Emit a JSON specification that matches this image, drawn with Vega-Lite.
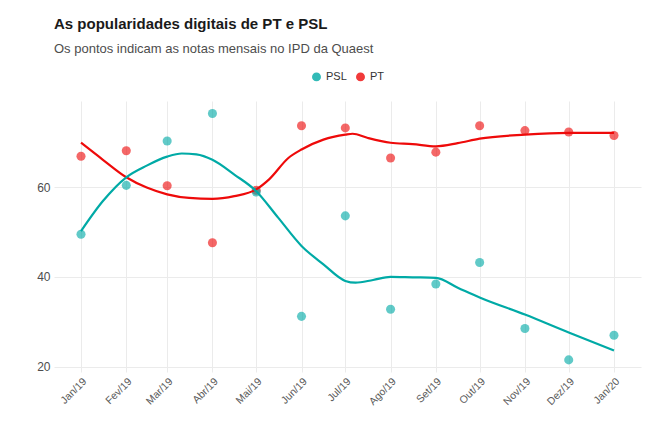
{
  "$schema": "https://vega.github.io/schema/vega-lite/v6.json",
  "title": {
    "text": "As popularidades digitais de PT e PSL",
    "subtitle": "Os pontos indicam as notas mensais no IPD da Quaest",
    "anchor": "start",
    "frame": "group",
    "font": "Liberation Sans",
    "fontSize": 15,
    "fontWeight": "bold",
    "color": "#1a1a1a",
    "subtitleFont": "Liberation Sans",
    "subtitleFontSize": 13,
    "subtitleColor": "#4d4d4d",
    "subtitlePadding": 11,
    "offset": 15
  },
  "width": 587,
  "height": 271,
  "padding": {"left": 36, "top": 17, "right": 27, "bottom": 5},
  "background": "white",
  "datasets": {
    "pontos": [
      {"data": "2019-01-01", "partido": "PT", "nota": 66.9},
      {"data": "2019-02-01", "partido": "PT", "nota": 68.1},
      {"data": "2019-03-01", "partido": "PT", "nota": 60.3},
      {"data": "2019-04-01", "partido": "PT", "nota": 47.6},
      {"data": "2019-05-01", "partido": "PT", "nota": 59.3},
      {"data": "2019-06-01", "partido": "PT", "nota": 73.7},
      {"data": "2019-07-01", "partido": "PT", "nota": 73.2},
      {"data": "2019-08-01", "partido": "PT", "nota": 66.5},
      {"data": "2019-09-01", "partido": "PT", "nota": 67.8},
      {"data": "2019-10-01", "partido": "PT", "nota": 73.7},
      {"data": "2019-11-01", "partido": "PT", "nota": 72.6},
      {"data": "2019-12-01", "partido": "PT", "nota": 72.3},
      {"data": "2020-01-01", "partido": "PT", "nota": 71.5},
      {"data": "2019-01-01", "partido": "PSL", "nota": 49.5},
      {"data": "2019-02-01", "partido": "PSL", "nota": 60.4},
      {"data": "2019-03-01", "partido": "PSL", "nota": 70.3},
      {"data": "2019-04-01", "partido": "PSL", "nota": 76.4},
      {"data": "2019-05-01", "partido": "PSL", "nota": 58.9},
      {"data": "2019-06-01", "partido": "PSL", "nota": 31.2},
      {"data": "2019-07-01", "partido": "PSL", "nota": 53.6},
      {"data": "2019-08-01", "partido": "PSL", "nota": 32.8},
      {"data": "2019-09-01", "partido": "PSL", "nota": 38.4},
      {"data": "2019-10-01", "partido": "PSL", "nota": 43.2},
      {"data": "2019-11-01", "partido": "PSL", "nota": 28.5},
      {"data": "2019-12-01", "partido": "PSL", "nota": 21.5},
      {"data": "2020-01-01", "partido": "PSL", "nota": 27.0}
    ],
    "curva": [
      {"data": "2019-01-01", "partido": "PT", "nota": 69.9},
      {"data": "2019-01-16", "partido": "PT", "nota": 66.1},
      {"data": "2019-02-01", "partido": "PT", "nota": 62.2},
      {"data": "2019-02-15", "partido": "PT", "nota": 59.9},
      {"data": "2019-03-01", "partido": "PT", "nota": 58.4},
      {"data": "2019-03-16", "partido": "PT", "nota": 57.6},
      {"data": "2019-04-01", "partido": "PT", "nota": 57.4},
      {"data": "2019-04-16", "partido": "PT", "nota": 58.0},
      {"data": "2019-05-01", "partido": "PT", "nota": 59.5},
      {"data": "2019-05-10", "partido": "PT", "nota": 61.8},
      {"data": "2019-05-23", "partido": "PT", "nota": 66.5},
      {"data": "2019-06-01", "partido": "PT", "nota": 68.4},
      {"data": "2019-06-16", "partido": "PT", "nota": 70.6},
      {"data": "2019-07-01", "partido": "PT", "nota": 71.7},
      {"data": "2019-07-06", "partido": "PT", "nota": 71.9},
      {"data": "2019-07-16", "partido": "PT", "nota": 71.0},
      {"data": "2019-08-01", "partido": "PT", "nota": 69.9},
      {"data": "2019-08-16", "partido": "PT", "nota": 69.6},
      {"data": "2019-09-01", "partido": "PT", "nota": 69.1},
      {"data": "2019-09-16", "partido": "PT", "nota": 69.8},
      {"data": "2019-10-01", "partido": "PT", "nota": 70.8},
      {"data": "2019-11-01", "partido": "PT", "nota": 71.7},
      {"data": "2019-12-01", "partido": "PT", "nota": 72.1},
      {"data": "2020-01-01", "partido": "PT", "nota": 72.1},
      {"data": "2019-01-01", "partido": "PSL", "nota": 50.2},
      {"data": "2019-01-16", "partido": "PSL", "nota": 56.9},
      {"data": "2019-02-01", "partido": "PSL", "nota": 62.2},
      {"data": "2019-02-15", "partido": "PSL", "nota": 64.8},
      {"data": "2019-03-01", "partido": "PSL", "nota": 66.8},
      {"data": "2019-03-11", "partido": "PSL", "nota": 67.5},
      {"data": "2019-03-21", "partido": "PSL", "nota": 67.3},
      {"data": "2019-04-01", "partido": "PSL", "nota": 66.1},
      {"data": "2019-04-16", "partido": "PSL", "nota": 62.8},
      {"data": "2019-05-01", "partido": "PSL", "nota": 59.1},
      {"data": "2019-05-16", "partido": "PSL", "nota": 53.2},
      {"data": "2019-06-01", "partido": "PSL", "nota": 46.9},
      {"data": "2019-06-16", "partido": "PSL", "nota": 42.8},
      {"data": "2019-07-01", "partido": "PSL", "nota": 39.1},
      {"data": "2019-07-08", "partido": "PSL", "nota": 38.7},
      {"data": "2019-07-20", "partido": "PSL", "nota": 39.3},
      {"data": "2019-08-01", "partido": "PSL", "nota": 40.0},
      {"data": "2019-08-16", "partido": "PSL", "nota": 39.9},
      {"data": "2019-09-01", "partido": "PSL", "nota": 39.8},
      {"data": "2019-09-16", "partido": "PSL", "nota": 37.6},
      {"data": "2019-10-01", "partido": "PSL", "nota": 35.4},
      {"data": "2019-11-01", "partido": "PSL", "nota": 31.6},
      {"data": "2019-12-01", "partido": "PSL", "nota": 27.6},
      {"data": "2020-01-01", "partido": "PSL", "nota": 23.6}
    ]
  },
  "encoding": {
    "x": {
      "field": "data",
      "type": "temporal",
      "title": null,
      "scale": {"type": "utc", "domain": ["2018-12-13T12:00:00Z", "2020-01-19T12:00:00Z"]},
      "axis": {
        "values": ["2019-01-01", "2019-02-01", "2019-03-01", "2019-04-01", "2019-05-01", "2019-06-01", "2019-07-01", "2019-08-01", "2019-09-01", "2019-10-01", "2019-11-01", "2019-12-01", "2020-01-01"],
        "labelExpr": "['Jan','Fev','Mar','Abr','Mai','Jun','Jul','Ago','Set','Out','Nov','Dez'][utcmonth(datum.value)] + '/' + utcFormat(datum.value, '%y')",
        "labelAngle": -45
      }
    },
    "y": {
      "field": "nota",
      "type": "quantitative",
      "title": null,
      "scale": {"domain": [18.8, 79.2], "nice": false, "zero": false},
      "axis": {"values": [20, 40, 60]}
    },
    "color": {
      "field": "partido",
      "type": "nominal",
      "title": null,
      "scale": {"domain": ["PSL", "PT"], "range": ["#00aaa6", "#ee0a0a"]},
      "legend": {"orient": "top", "symbolType": "circle", "symbolSize": 55, "symbolOpacity": 0.8}
    }
  },
  "layer": [
    {
      "data": {"name": "pontos"},
      "mark": {"type": "circle", "size": 82, "opacity": 0.62}
    },
    {
      "data": {"name": "curva"},
      "mark": {"type": "line", "interpolate": "monotone", "strokeWidth": 2.2}
    }
  ],
  "config": {
    "font": "Liberation Sans",
    "view": {"stroke": null},
    "axis": {
      "domain": false,
      "ticks": false,
      "grid": true,
      "gridColor": "#ebebeb",
      "gridWidth": 1,
      "labelColor": "#4d4d4d",
      "labelFontSize": 12,
      "labelFont": "Liberation Sans",
      "labelPadding": 4
    },
    "axisX": {"labelFontSize": 10.5, "labelColor": "#5a5a5a"},
    "legend": {
      "labelFontSize": 11,
      "labelColor": "#333333",
      "labelFont": "Liberation Sans",
      "columnPadding": 6,
      "padding": 0,
      "offset": 17,
      "layout": {"top": {"anchor": "middle"}}
    }
  }
}
